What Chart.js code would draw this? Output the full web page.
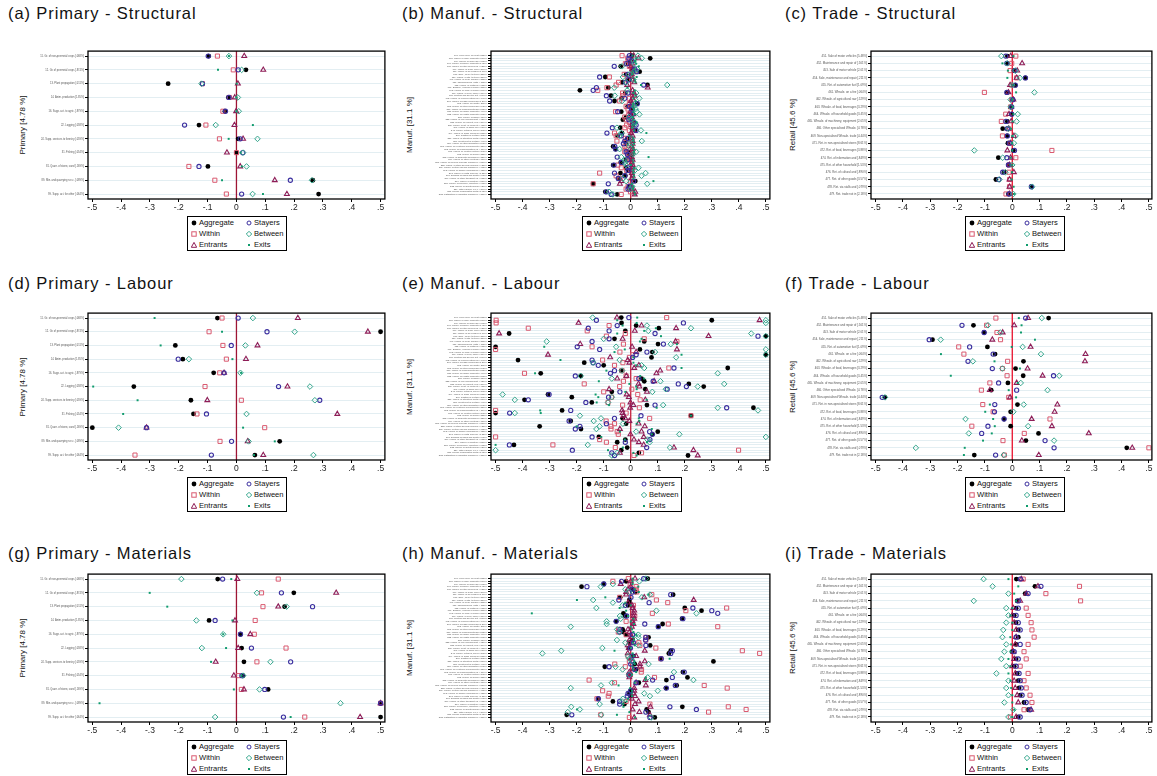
<!DOCTYPE html>
<html>
<head>
<meta charset="utf-8">
<script src="https://cdn.jsdelivr.net/npm/chart.js@4.4.1/dist/chart.umd.min.js"></script>
<style>
  body { margin: 0; width: 1157px; height: 776px; background: #fff; position: relative; overflow: hidden;
         font-family: "Liberation Sans", Arial, Helvetica, sans-serif; color: #111; }
  .title { position: absolute; font-size: 16.5px; letter-spacing: 0.9px; white-space: nowrap; line-height: 16px; }
  .ytitle { position: absolute; font-size: 8px; white-space: nowrap; transform: translate(-50%, -50%) rotate(-90deg); }
  canvas { position: absolute; }
  .legend { position: absolute; width: 100px; height: 35px; border: 1px solid #000; box-sizing: border-box; background: #fff; }
  .item { position: absolute; font-size: 7.6px; line-height: 8px; white-space: nowrap; }
  .item svg { position: absolute; left: -8px; top: 1px; }
</style>
</head>
<body>
<script>
// ---- categories ----
const primaryLabels = [
  "11. Gr. of non-perennial crops [.068%]", "12. Gr. of perennial crops [.874%]", "13. Plant propagation [.011%]",
  "14. Anim. production [1.85%]", "16. Supp. act. to agric. [.879%]", "22. Logging [.058%]",
  "24. Supp. services to forestry [.059%]", "31. Fishing [.054%]", "81. Quarr. of stone, sand [.169%]",
  "89. Min. and quarrying n.e.c. [.089%]", "99. Supp. act. for other [.064%]"
];
const manufLabels = [
  "101. Proc./pres. of meat [.582%]", "105. Manuf. of dairy products [.510%]", "106. Manuf. of grain mill [.605%]",
  "107. Manuf. of bakery products [1.92%]", "108. Manuf. of other food prod. [.628%]", "109. Manuf. of anim. feed [.269%]",
  "110. Manuf. of beverages [1.10%]", "131. Spin., weav. textiles [.256%]", "139. Manuf. of oth. textiles [.259%]",
  "141. Manuf. of wear. apparel [.283%]", "151. Tanning/dress. leath. [.113%]", "152. Manuf. of footwear [.083%]",
  "161. Sawmill., planing of wood [.388%]", "162. Manuf. of prod. of wood [.861%]", "171. Manuf. of pulp, paper [.314%]",
  "181. Printing and service act. [.579%]", "192. Manuf. of refined petroleum [.146%]", "201. Manuf. of basic chemicals [1.20%]",
  "203. Manuf. of paints [.211%]", "205. Manuf. of other chemicals [.842%]", "210. Manuf. of pharmaceuticals [.572%]",
  "221. Manuf. of rubber products [.409%]", "222. Manuf. of plastic products [.863%]", "231. Manuf. of glass [.159%]",
  "233. Manuf. of clay building mat. [.121%]", "235. Manuf. of cement, lime [.274%]", "236. Manuf. of art. of concrete [.458%]",
  "241. Manuf. of basic iron [.656%]", "242. Manuf. of tubes, pipes [.305%]", "244. Manuf. of basic precious [.553%]",
  "245. Casting of metals [.262%]", "251. Manuf. of structural metal [.880%]", "256. Treatment of metals [.497%]",
  "259. Manuf. of other fabricated [.595%]", "261. Manuf. of electronic components [.236%]", "263. Manuf. of communication eq. [.114%]",
  "271. Manuf. of electric motors [.395%]", "273. Manuf. of wiring [.233%]", "275. Manuf. of domestic appliances [.221%]",
  "279. Manuf. of other electrical [.186%]", "281. Manuf. of general-purpose machinery [.856%]", "282. Manuf. of other general-purpose [.928%]",
  "289. Manuf. of other special machinery [.712%]", "292. Manuf. of bodies (coachwork) [.133%]", "293. Manuf. of parts and acc. [1.32%]",
  "301. Building of ships and boats [.095%]", "309. Manuf. of other transport eq. [.082%]", "310. Manuf. of furniture [.557%]",
  "321. Manuf. of jewellery, bijouterie [.073%]", "323. Manuf. of sports goods [.026%]", "329. Other manuf. n.e.c. [.269%]",
  "331. Repair of fabricated metal [1.02%]", "332. Installation of industrial machinery [.351%]"
];
const tradeLabels = [
  "451. Sale of motor vehicles [5.48%]", "452. Maintenance and repair of [.501%]", "453. Sale of motor vehicle [2.01%]",
  "454. Sale, maintenance and repair [.211%]", "455. Ret. of automotive fuel [1.09%]", "461. Whsale. on a fee [.064%]",
  "462. Whsale. of agricultural raw [.529%]", "463. Whsale. of food, beverages [3.29%]", "464. Whsale. of household goods [3.45%]",
  "465. Whsale. of machinery, equipment [2.05%]", "466. Other specialised Whsale. [4.78%]", "469. Non-specialised Whsale. trade [4.44%]",
  "471. Ret. in non-specialised stores [8.61%]", "472. Ret. of food, beverages [3.88%]", "474. Ret. of information and [.849%]",
  "475. Ret. of other household [1.53%]", "476. Ret. of cultural and [.890%]", "477. Ret. of other goods [3.57%]",
  "478. Ret. via stalls and [.079%]", "479. Ret. trade not in [2.18%]"
];
const xTickValues = [-0.5, -0.4, -0.3, -0.2, -0.1, 0, 0.1, 0.2, 0.3, 0.4, 0.5];
const xTickLabels = ["-.5", "-.4", "-.3", "-.2", "-.1", "0", ".1", ".2", ".3", ".4", ".5"];
const seriesNames = ["Aggregate", "Within", "Entrants", "Stayers", "Between", "Exits"];

// ---- (a) Primary - Structural ----
const aAggregate = [-0.096, 0.033, -0.237, -0.028, -0.040, -0.130, 0.006, 0.000, -0.099, 0.265, 0.285];
const aWithin    = [-0.066, -0.011, -0.118, -0.024, -0.047, -0.106, -0.059, 0.000, -0.165, -0.075, -0.035];
const aEntrants  = [0.027, 0.093, 0.005, -0.006, -0.001, -0.007, 0.023, -0.033, 0.013, 0.133, 0.175];
const aStayers   = [-0.098, 0.006, -0.118, -0.026, -0.038, -0.180, 0.013, 0.022, -0.130, 0.187, 0.018];
const aBetween   = [-0.026, 0.018, -0.121, 0.005, 0.008, -0.072, 0.073, 0.023, 0.035, 0.262, 0.056];
const aExits     = [-0.026, -0.064, 0.001, 0.001, 0.000, 0.057, -0.027, 0.014, 0.019, -0.050, 0.092];

// ---- (d) Primary - Labour ----
const dAggregate = [-0.066, 0.5, -0.212, -0.186, -0.079, -0.356, -0.158, -0.149, -0.5, 0.150, 0.064];
const dWithin    = [-0.050, -0.095, -0.047, -0.035, -0.058, -0.109, 0.017, -0.137, 0.098, -0.057, -0.352];
const dEntrants  = [0.213, 0.456, 0.073, 0.033, -0.043, 0.177, -0.101, 0.350, -0.312, 0.039, 0.093];
const dStayers   = [0.006, 0.106, -0.018, -0.202, -0.043, 0.146, 0.289, -0.104, -0.312, -0.017, -0.087];
const dBetween   = [0.057, 0.202, 0.031, -0.165, 0.014, 0.255, 0.272, 0.035, -0.409, 0.042, 0.267];
const dExits     = [-0.284, -0.050, -0.263, -0.014, 0.016, -0.497, -0.343, -0.393, 0.023, 0.133, 0.061];

// ---- (g) Primary - Materials ----
const gAggregate = [-0.065, 0.199, 0.167, -0.095, 0.014, 0.018, 0.026, 0.023, 0.110, 0.5, 0.5];
const gWithin    = [0.145, 0.087, 0.092, 0.065, 0.062, 0.172, 0.071, 0.006, 0.017, 0.5, 0.237];
const gEntrants  = [0.003, 0.346, 0.145, -0.005, 0.048, 0.006, -0.072, -0.009, 0.026, 0.5, 0.429];
const gStayers   = [-0.048, 0.156, 0.264, -0.074, 0.014, 0.052, 0.188, 0.019, 0.098, 0.5, 0.163];
const gBetween   = [-0.191, 0.071, 0.174, -0.139, -0.046, -0.120, 0.118, 0.023, 0.080, 0.361, -0.074];
const gExits     = [-0.018, -0.301, -0.240, -0.014, -0.046, -0.036, -0.088, 0.018, -0.009, -0.475, 0.188];

// ---- (b) Manuf. - Structural ----
const bAggregate = [0.004, 0.072, 0, -0.01, -0.037, 0.007, 0.033, -0.017, -0.094, -0.005,
  -0.032, 0.062, -0.083, -0.188, -0.02, -0.073, -0.034, -0.06, 0.024, -0.011,
  0.005, -0.035, 0.001, -0.017, -0.029, 0.013, 0.008, -0.039, 0.016, -0.032,
  -0.049, -0.012, -0.017, -0.017, -0.065, -0.056, -0.011, -0.005, 0, -0.017,
  -0.037, -0.065, -0.017, -0.008, -0.038, -0.02, -0.046, 0.017, -0.139, -0.005,
  -0.005, -0.094, -0.05];
const bWithin = [-0.032, -0.011, -0.007, -0.02, -0.005, 0.004, 0.013, -0.024, -0.079, -0.012,
  -0.045, -0.054, -0.088, -0.122, -0.03, -0.029, -0.005, -0.041, -0.005, -0.017,
  -0.01, -0.056, -0.007, -0.022, -0.017, -0.005, -0.015, -0.022, -0.005, -0.06,
  -0.054, -0.02, -0.051, -0.007, -0.022, -0.017, -0.022, -0.01, -0.009, -0.005,
  -0.005, -0.048, -0.035, -0.015, -0.115, -0.054, -0.04, -0.001, -0.139, -0.01,
  -0.017, -0.001, -0.035];
const bEntrants = [0.011, 0.029, 0.007, 0.005, 0.001, 0.006, 0.007, 0.004, 0.004, 0.006,
  0.013, -0.013, 0.063, 0.007, 0.012, 0.015, 0.007, 0.001, 0.004, 0.005,
  0.004, -0.001, 0.01, 0.004, 0.004, 0.007, 0.005, 0.007, 0.011, 0.001,
  0.007, 0.004, 0.007, 0.007, 0.004, 0.007, 0.007, 0.005, 0.004, 0.007,
  0.004, 0.007, 0.007, 0.005, 0.004, 0.007, 0.004, -0.035, -0.04, 0.004,
  0.005, 0.017, 0.015];
const bStayers = [-0.005, -0.007, 0.004, -0.015, -0.061, 0.015, 0.022, -0.011, -0.115, -0.008,
  -0.02, 0.048, -0.127, -0.139, -0.01, -0.09, -0.022, -0.078, 0.024, -0.005,
  0.003, -0.048, 0.007, -0.005, -0.007, 0.011, 0.02, -0.068, 0.02, -0.088,
  -0.035, -0.01, -0.022, -0.027, -0.059, -0.056, -0.017, -0.012, -0.05, -0.011,
  -0.034, -0.062, -0.01, -0.01, -0.06, -0.022, -0.046, 0.011, -0.083, -0.006,
  -0.01, -0.09, -0.072];
const bBetween = [0.027, 0.041, 0.011, 0.012, -0.032, 0.024, 0.011, -0.005, -0.029, 0.01,
  -0.017, 0.135, -0.061, -0.013, 0.02, -0.059, 0.032, -0.032, 0.015, 0.012,
  0.018, 0.022, 0.032, -0.005, 0.001, 0.015, 0.012, -0.051, 0.038, -0.035,
  -0.041, 0.005, 0.041, -0.005, -0.005, -0.041, 0.02, 0.008, -0.035, -0.022,
  -0.022, -0.017, 0.029, 0.015, 0.055, 0.04, -0.029, -0.017, 0.061, 0.005,
  0, -0.08, -0.066];
const bExits = [0.007, 0.02, 0.016, 0.02, 0.03, 0.015, 0.009, 0.005, 0.022, 0.015,
  0.018, 0.038, -0.012, 0.015, 0.01, 0.017, 0.01, 0.018, 0.01, 0.008,
  0.012, 0.01, 0.016, 0.008, 0.01, 0.022, 0.01, 0.005, 0.012, 0.058,
  -0.005, 0.008, 0.01, 0.012, 0.008, 0.01, 0.012, 0.01, 0.066, 0.008,
  0.01, 0.001, 0.012, 0.01, 0.01, 0.012, 0.01, 0.084, 0.004, 0.01,
  0.008, 0.013, 0.016];

// ---- (e) Manuf. - Labour ----
const eAggregate = [-0.035, 0.30, -0.034, 0.02, 0.104, -0.02, -0.45, 0.5, -0.06, 0.05,
  0.101, -0.5, 0.034, 0.08, 0.5, 0.077, -0.417, -0.172, -0.1, 0.359,
  -0.035, -0.333, -0.185, 0.04, 0.05, 0.215, 0.27, 0.054, -0.07, -0.306,
  -0.218, -0.393, -0.144, 0.06, 0.454, -0.254, -0.5, 0.223, -0.03, -0.222,
  -0.017, -0.337, -0.184, 0.1, 0.08, -0.118, -0.02, -0.05, -0.432, -0.013,
  -0.035, 0.03, 0.212];
const eWithin = [0.133, -0.498, -0.498, -0.08, -0.379, -0.161, -0.02, -0.09, 0.05, 0.171,
  -0.027, -0.143, -0.5, -0.04, 0.007, -0.005, -0.104, -0.029, -0.06, 0.141,
  -0.032, -0.393, -0.017, 0.02, -0.027, -0.172, -0.041, 0.004, -0.1, 0.026,
  -0.071, 0.035, -0.084, -0.03, 0.032, -0.5, -0.017, 0.223, 0.07, -0.091,
  -0.06, -0.073, -0.073, -0.05, -0.046, -0.5, -0.115, -0.09, -0.288, -0.057,
  0.399, 0.04, 0.012];
const eEntrants = [-0.051, 0.477, -0.193, 0.04, 0.168, 0.015, -0.487, 0.288, -0.03, 0.166,
  -0.187, 0.005, 0.171, 0.02, -0.306, -0.076, -0.011, -0.005, 0.03, 0.013,
  0.109, 0.095, -0.016, -0.05, 0.087, 0.029, 0.032, -0.08, 0.06, -0.015,
  -0.007, 0.054, -0.001, 0.01, -0.002, -0.032, -0.03, -0.027, -0.02, -0.005,
  0.029, 0.052, -0.04, 0.04, -0.001, 0.048, 0.012, 0.03, 0.048, 0.16,
  0.232, -0.04, 0.248];
const eStayers = [-0.007, -0.127, 0.195, -0.05, -0.157, -0.08, 0.09, 0.471, -0.08, -0.143,
  0.121, -0.198, -0.115, 0.06, 0.02, 0.007, -0.143, -0.139, -0.12, 0.16,
  -0.06, -0.075, -0.205, 0.03, 0.083, 0.176, 0.206, 0.135, -0.04, -0.302,
  -0.082, -0.379, -0.166, 0.09, 0.355, -0.222, -0.448, 0.038, -0.06, -0.228,
  -0.09, -0.188, -0.205, 0.07, 0.08, -0.143, 0.071, -0.02, -0.449, 0.059,
  -0.216, -0.07, -0.06];
const eBetween = [-0.141, 0.5, 0.5, 0.06, 0.223, 0.065, 0.446, 0.5, -0.1, -0.311,
  0.148, -0.054, 0.5, 0.09, 0.5, 0.168, -0.041, -0.139, 0.04, 0.05,
  -0.032, 0.322, -0.185, -0.07, 0.11, 0.346, 0.248, 0.13, 0.08, -0.474,
  -0.07, -0.429, -0.084, 0.12, 0.322, 0.471, -0.429, -0.188, -0.11, -0.137,
  -0.029, -0.115, -0.127, 0.02, 0.18, 0.5, 0.062, 0.07, -0.159, 0.145,
  -0.5, -0.05, -0.07];
const eExits = [0.024, -0.05, 0.022, -0.03, 0.093, 0.05, -0.05, 0.112, 0.04, 0.034,
  0.171, -0.32, -0.022, -0.06, 0.188, 0.01, -0.26, 0.01, 0.02, 0.188,
  -0.09, -0.354, 0.035, 0.05, -0.118, -0.005, 0.02, 0.022, -0.02, -0.13,
  -0.12, 0.059, -0.126, -0.08, 0.096, -0.335, -0.333, 0.223, 0.03, 0.032,
  0.022, -0.2, 0.078, -0.04, 0.078, -0.109, -0.022, 0.06, -0.5, -0.029,
  -0.084, 0.01, 0.022];

// ---- (h) Manuf. - Materials ----
const hAggregate = [0.063, -0.017, -0.099, -0.182, 0.01, 0.017, 0.157, -0.039, -0.005, -0.005,
  -0.01, 0.2, 0.262, -0.027, -0.02, 0.19, -0.054, 0.118, 0.102, -0.03,
  -0.027, -0.017, 0.066, 0.007, -0.005, 0.072, -0.007, 0.148, 0.141, 0.01,
  0.111, 0.306, 0.015, -0.096, 0.02, 0.193, -0.007, 0.21, 0.132, 0.03,
  0.17, 0.13, 0, -0.005, 0, -0.12, -0.066, -0.023, 0.191, 0.059,
  0.066, -0.237, 0.089];
const hWithin = [-0.009, -0.066, -0.002, 0.02, 0.02, 0.022, 0.078, -0.041, 0.095, 0.137,
  0.01, 0.355, 0.204, 0.08, 0.015, 0.007, -0.017, 0.139, 0.322, -0.045,
  -0.046, -0.017, 0.056, 0.056, 0.03, 0.034, 0.093, 0.413, 0.477, -0.01,
  0.111, -0.005, -0.059, -0.02, 0.04, 0.039, -0.001, 0.088, -0.154, -0.06,
  0.272, 0.357, -0.104, -0.08, -0.083, -0.125, -0.017, 0.071, 0.361, 0.427,
  0.288, -0.111, -0.005];
const hEntrants = [0.016, 0, -0.037, 0, -0.01, -0.017, -0.017, 0.05, 0.233, -0.01,
  0.005, 0.007, 0.013, 0.011, 0.01, 0.013, 0.007, 0.01, 0.004, -0.01,
  -0.005, 0, 0.004, -0.005, 0.005, -0.011, -0.007, 0.052, -0.011, 0.02,
  0.001, 0.052, 0.034, 0.034, 0.01, -0.005, -0.005, -0.005, 0.054, 0.02,
  0.056, 0.013, 0.013, 0.01, 0.016, 0.004, 0.029, 0.016, 0.073, 0.007,
  0.032, 0.071, 0.013];
const hStayers = [0.048, -0.034, -0.1, -0.162, 0.005, 0.007, 0.148, 0.001, -0.044, 0.068,
  -0.02, 0.23, 0.3, 0.322, -0.015, 0.193, -0.054, 0.052, 0.102, -0.04,
  -0.041, 0.007, 0.056, 0.055, 0.01, 0.056, -0.001, 0.154, 0.148, 0.005,
  0.113, 0.007, 0, -0.08, 0.015, 0.198, -0.005, 0.154, 0.081, 0.02,
  0.165, 0.132, 0, -0.01, -0.013, -0.12, -0.041, -0.041, 0.145, 0.243,
  0.056, -0.218, 0.071];
const hBetween = [0.056, 0.032, -0.066, -0.111, -0.02, -0.005, 0.071, 0.041, -0.139, -0.066,
  -0.03, -0.127, 0.095, 0.243, -0.04, -0.037, -0.089, -0.089, -0.222, -0.05,
  -0.041, 0.028, 0.028, -0.051, -0.02, 0.028, -0.105, -0.257, -0.327, -0.01,
  -0.005, 0.007, 0.066, -0.056, -0.03, 0.16, -0.005, 0.063, 0.232, -0.07,
  -0.11, -0.222, 0.1, 0.05, 0.071, -0.029, -0.032, -0.115, -0.22, -0.188,
  -0.233, -0.109, 0.076];
const hExits = [0.007, 0.007, 0.007, 0.028, 0.015, 0.03, 0.066, -0.094, -0.199, -0.02,
  0, -0.041, -0.017, -0.366, -0.01, 0.01, 0, 0.012, 0, 0.005,
  0.01, 0.02, 0.01, 0.012, 0.008, 0.015, 0, -0.06, 0.007, 0.01,
  0.144, 0.013, 0.015, 0.007, 0.01, 0.02, 0.005, 0.056, 0.054, 0.015,
  -0.045, -0.002, 0.005, 0.004, 0.005, -0.01, -0.015, -0.027, -0.027, -0.199,
  -0.005, -0.051, 0.016];

// ---- (c) Trade - Structural ----
const cAggregate = [-0.018, -0.018, 0.006, 0.048, 0.011, -0.018, 0.002, -0.004, -0.002, -0.018, -0.035, -0.019, -0.016, 0.004, -0.051, -0.014, -0.030, -0.060, 0.070, -0.014];
const cWithin    = [0.013, -0.002, -0.008, 0.016, -0.002, -0.102, -0.002, -0.006, -0.024, -0.040, -0.014, -0.036, -0.008, 0.145, 0.013, -0.012, -0.012, -0.010, -0.010, -0.023];
const cEntrants  = [-0.006, 0.036, 0.018, 0.016, -0.008, -0.014, 0.004, -0.004, -0.012, -0.004, -0.013, 0.006, -0.006, -0.018, -0.006, -0.010, 0.006, -0.010, -0.010, -0.010];
const cStayers   = [-0.024, -0.020, 0.010, 0.048, 0.011, -0.020, 0.002, -0.002, -0.002, -0.023, -0.018, -0.018, -0.011, 0.008, -0.020, -0.014, -0.035, -0.049, 0.070, -0.011];
const cBetween   = [-0.040, -0.018, 0.012, 0.028, 0.000, 0.081, -0.006, -0.006, 0.020, 0.016, -0.014, 0.012, 0.006, -0.139, -0.035, 0.000, -0.025, -0.047, 0.073, 0.004];
const cExits     = [0.004, -0.036, -0.016, -0.018, 0.001, 0.014, 0.000, 0.001, 0.004, 0.001, -0.004, 0.000, 0.000, 0.000, -0.006, 0.000, -0.001, -0.002, 0.005, 0.006];

// ---- (f) Trade - Labour ----
const fAggregate = [0.133, -0.142, -0.103, -0.292, -0.091, -0.063, 0.041, 0.012, 0.040, -0.016, -0.077, -0.466, 0.019, -0.006, -0.030, -0.006, 0.096, 0.050, 0.419, -0.139];
const fWithin    = [-0.060, -0.094, -0.056, -0.043, -0.196, -0.177, -0.017, -0.036, -0.019, -0.082, -0.113, -0.013, -0.108, -0.070, 0.138, -0.148, 0.044, -0.034, 0.5, -0.029];
const fEntrants  = [0.058, 0.007, -0.035, -0.073, 0.067, 0.268, 0.266, 0.056, 0.111, 0.016, -0.082, -0.008, 0.165, 0.155, 0.071, 0.145, 0.280, 0.035, 0.439, 0.097];
const fStayers   = [0.049, -0.184, -0.103, -0.304, -0.156, -0.070, -0.162, -0.073, 0.151, -0.050, 0.016, -0.476, -0.064, -0.065, -0.030, -0.089, -0.112, 0.120, 0.153, -0.061];
const fBetween   = [0.108, -0.089, -0.044, -0.262, 0.038, 0.105, -0.144, -0.036, 0.172, 0.031, 0.129, -0.466, 0.042, 0.004, -0.171, 0.058, -0.159, 0.153, -0.353, -0.031];
const fExits     = [0.024, 0.034, 0.032, 0.083, -0.002, -0.261, -0.065, 0.028, -0.225, 0.020, -0.013, 0.014, -0.082, -0.099, -0.070, -0.064, -0.075, -0.107, -0.174, -0.177];

// ---- (i) Trade - Materials ----
const iAggregate = [0.015, 0.083, 0.047, 0.018, 0.014, 0.007, 0.014, 0.022, 0.022, 0.014, 0.000, 0.014, 0.007, 0.018, 0.022, 0.025, 0.029, 0.043, 0.058, 0.022];
const iWithin    = [0.040, 0.246, 0.123, 0.250, 0.051, 0.058, 0.069, 0.072, 0.080, 0.058, 0.043, 0.051, 0.029, 0.058, 0.043, 0.051, 0.065, 0.072, 0.043, -0.007];
const iEntrants  = [0.033, 0.094, 0.051, 0.029, 0.004, 0.000, 0.007, 0.014, 0.014, 0.011, 0.004, 0.007, 0.000, 0.011, 0.007, 0.011, 0.018, 0.022, 0.069, 0.014];
const iStayers   = [0.029, 0.105, 0.058, 0.022, 0.022, 0.014, 0.022, 0.029, 0.014, 0.029, 0.007, 0.022, 0.014, 0.025, 0.029, 0.033, 0.036, 0.051, 0.065, 0.029];
const iBetween   = [-0.105, -0.072, -0.014, -0.141, -0.022, -0.014, -0.022, -0.033, -0.036, -0.022, -0.029, -0.040, -0.022, -0.058, -0.014, -0.022, -0.014, -0.029, 0.004, -0.014];
const iExits     = [-0.014, 0.022, 0.007, 0.014, 0.000, -0.007, 0.000, 0.000, -0.007, -0.004, -0.007, -0.014, -0.007, -0.014, -0.007, -0.004, 0.000, 0.000, 0.007, 0.000];

// ---- layout / styling ----
const cols = [
  { left: 0,   yW: 88, width: 390, rp: 3, xmin: -0.515, xmax: 0.515, titleX: 8,   yTitleX: 22,  legendX: 187,
    zero: "#9e1535", font: 2.6, pad: 0.36, yTitle: "Primary [4.78 %]" },
  { left: 400, yW: 91, width: 375, rp: 3, xmin: -0.517, xmax: 0.515, titleX: 402, yTitleX: 409, legendX: 582,
    zero: "#c4223f", font: 2.3, pad: 1.7,  yTitle: "Manuf. [31.1 %]" },
  { left: 800, yW: 71, width: 357, rp: 1, xmin: -0.517, xmax: 0.511, titleX: 785, yTitleX: 792, legendX: 965,
    zero: "#e8102c", font: 2.9, pad: 0.69, yTitle: "Retail [45.6 %]" }
];
const rows = [
  { plotTop: 51,  plotH: 148, titleY: 5,   legendY: 216 },
  { plotTop: 313, plotH: 147, titleY: 275, legendY: 477 },
  { plotTop: 574, plotH: 148, titleY: 545, legendY: 740 }
];

const panels = [
  { title: "(a) Primary - Structural", col: 0, row: 0, labels: primaryLabels, series: [aAggregate, aWithin, aEntrants, aStayers, aBetween, aExits] },
  { title: "(b) Manuf. - Structural",  col: 1, row: 0, labels: manufLabels,   series: [bAggregate, bWithin, bEntrants, bStayers, bBetween, bExits] },
  { title: "(c) Trade - Structural",   col: 2, row: 0, labels: tradeLabels,   series: [cAggregate, cWithin, cEntrants, cStayers, cBetween, cExits] },
  { title: "(d) Primary - Labour",     col: 0, row: 1, labels: primaryLabels, series: [dAggregate, dWithin, dEntrants, dStayers, dBetween, dExits] },
  { title: "(e) Manuf. - Labour",      col: 1, row: 1, labels: manufLabels,   series: [eAggregate, eWithin, eEntrants, eStayers, eBetween, eExits] },
  { title: "(f) Trade - Labour",       col: 2, row: 1, labels: tradeLabels,   series: [fAggregate, fWithin, fEntrants, fStayers, fBetween, fExits] },
  { title: "(g) Primary - Materials",  col: 0, row: 2, labels: primaryLabels, series: [gAggregate, gWithin, gEntrants, gStayers, gBetween, gExits] },
  { title: "(h) Manuf. - Materials",   col: 1, row: 2, labels: manufLabels,   series: [hAggregate, hWithin, hEntrants, hStayers, hBetween, hExits] },
  { title: "(i) Trade - Materials",    col: 2, row: 2, labels: tradeLabels,   series: [iAggregate, iWithin, iEntrants, iStayers, iBetween, iExits] }
];

// marker look per series (same order as seriesNames)
const markers = [
  { style: "circle",  r: 2.4, fill: "#000000", stroke: "#000000", bw: 0 },
  { style: "rect",    r: 2.9, fill: "rgba(0,0,0,0)", stroke: "#d9596f", bw: 1 },
  { style: "triangle",r: 2.8, fill: "rgba(0,0,0,0)", stroke: "#8e1d57", bw: 1.1 },
  { style: "circle",  r: 2.1, fill: "rgba(0,0,0,0)", stroke: "#3b2f9f", bw: 1.1 },
  { style: "rectRot", r: 2.8, fill: "rgba(0,0,0,0)", stroke: "#33a58b", bw: 1 },
  { style: "rect",    r: 1.4, fill: "#0f9b6c", stroke: "#0f9b6c", bw: 0 }
];

const legendSvg = [
  '<circle cx="3" cy="3" r="2.4" fill="#000"/>',
  '<rect x="0.8" y="0.8" width="4.4" height="4.4" fill="none" stroke="#d9596f" stroke-width="1"/>',
  '<polygon points="3,0.4 5.7,5.3 0.3,5.3" fill="none" stroke="#8e1d57" stroke-width="1"/>',
  '<circle cx="3" cy="3" r="2" fill="none" stroke="#3b2f9f" stroke-width="1"/>',
  '<polygon points="3,0.3 5.7,3 3,5.7 0.3,3" fill="none" stroke="#33a58b" stroke-width="1"/>',
  '<rect x="2" y="2" width="2" height="2" fill="#0f9b6c"/>'
];

// zero line + plot frame
const framePlugin = {
  id: "frame",
  beforeDatasetsDraw(chart, args, opts) {
    const a = chart.chartArea;
    const px = chart.scales.x.getPixelForValue(0);
    const ctx = chart.ctx;
    ctx.save();
    ctx.strokeStyle = opts.zeroColor;
    ctx.lineWidth = 1.3;
    ctx.beginPath();
    ctx.moveTo(px, a.top);
    ctx.lineTo(px, a.bottom);
    ctx.stroke();
    ctx.restore();
  },
  afterDraw(chart) {
    const a = chart.chartArea;
    const ctx = chart.ctx;
    ctx.save();
    ctx.strokeStyle = "#000";
    ctx.lineWidth = 1.3;
    ctx.strokeRect(a.left, a.top, a.right - a.left, a.bottom - a.top);
    ctx.restore();
  }
};

function addDiv(cls, html, left, top) {
  const d = document.createElement("div");
  d.className = cls;
  d.innerHTML = html;
  d.style.left = left + "px";
  d.style.top = top + "px";
  document.body.appendChild(d);
  return d;
}

function buildLegend(x, y) {
  const box = addDiv("legend", "", x, y);
  const grid = [[0, 3], [1, 4], [2, 5]];
  grid.forEach((pair, r) => {
    pair.forEach((si, c) => {
      const it = document.createElement("div");
      it.className = "item";
      it.style.left = (c === 0 ? 11 : 66) + "px";
      it.style.top = (2 + r * 11) + "px";
      it.innerHTML = '<svg width="6" height="6" viewBox="0 0 6 6">' + legendSvg[si] + "</svg>" + seriesNames[si];
      box.appendChild(it);
    });
  });
}

panels.forEach((p) => {
  const c = cols[p.col];
  const r = rows[p.row];

  addDiv("title", p.title, c.titleX, r.titleY);
  addDiv("ytitle", c.yTitle, c.yTitleX, r.plotTop + r.plotH / 2);
  buildLegend(c.legendX, r.legendY);

  const cv = document.createElement("canvas");
  const h = 5 + r.plotH + 18;
  cv.width = c.width;
  cv.height = h;
  cv.style.width = c.width + "px";
  cv.style.height = h + "px";
  cv.style.left = c.left + "px";
  cv.style.top = (r.plotTop - 5) + "px";
  document.body.appendChild(cv);

  const datasets = p.series.map((vals, si) => ({
    label: seriesNames[si],
    data: vals.map((v, i) => ({ x: v, y: i })),
    pointStyle: markers[si].style,
    pointRadius: markers[si].r,
    pointBackgroundColor: markers[si].fill,
    pointBorderColor: markers[si].stroke,
    pointBorderWidth: markers[si].bw,
    order: 6 - si,
    clip: false
  }));

  new Chart(cv, {
    type: "scatter",
    data: { datasets },
    plugins: [framePlugin],
    options: {
      responsive: false,
      animation: false,
      events: [],
      layout: { padding: { top: 5, right: c.rp, left: 0, bottom: 0 } },
      plugins: {
        legend: { display: false },
        tooltip: { enabled: false },
        frame: { zeroColor: c.zero }
      },
      scales: {
        x: {
          type: "linear",
          min: c.xmin,
          max: c.xmax,
          afterBuildTicks(s) { s.ticks = xTickValues.map((v) => ({ value: v })); },
          afterFit(s) { s.height = 18; s.paddingLeft = 0; s.paddingRight = 0; },
          ticks: {
            autoSkip: false, maxRotation: 0, padding: 1, color: "#222",
            font: { family: "'Liberation Sans', Arial, sans-serif", size: 8.5 },
            callback: (v, i) => xTickLabels[i]
          },
          grid: { drawOnChartArea: false, color: "#000", tickLength: 3, lineWidth: 1 },
          border: { display: false }
        },
        y: {
          type: "linear",
          reverse: true,
          min: -c.pad,
          max: p.labels.length - 1 + c.pad,
          afterBuildTicks(s) { s.ticks = p.labels.map((l, i) => ({ value: i })); },
          afterFit(s) { s.width = c.yW; s.paddingTop = 0; s.paddingBottom = 0; },
          ticks: {
            autoSkip: false, padding: 1, color: "#555",
            font: { family: "'Liberation Sans', Arial, sans-serif", size: c.font },
            callback: (v) => p.labels[v]
          },
          grid: { color: "#e3eef2", tickColor: "#000", tickLength: 3, lineWidth: 1 },
          border: { display: false }
        }
      }
    }
  });
});
</script>
</body>
</html>
